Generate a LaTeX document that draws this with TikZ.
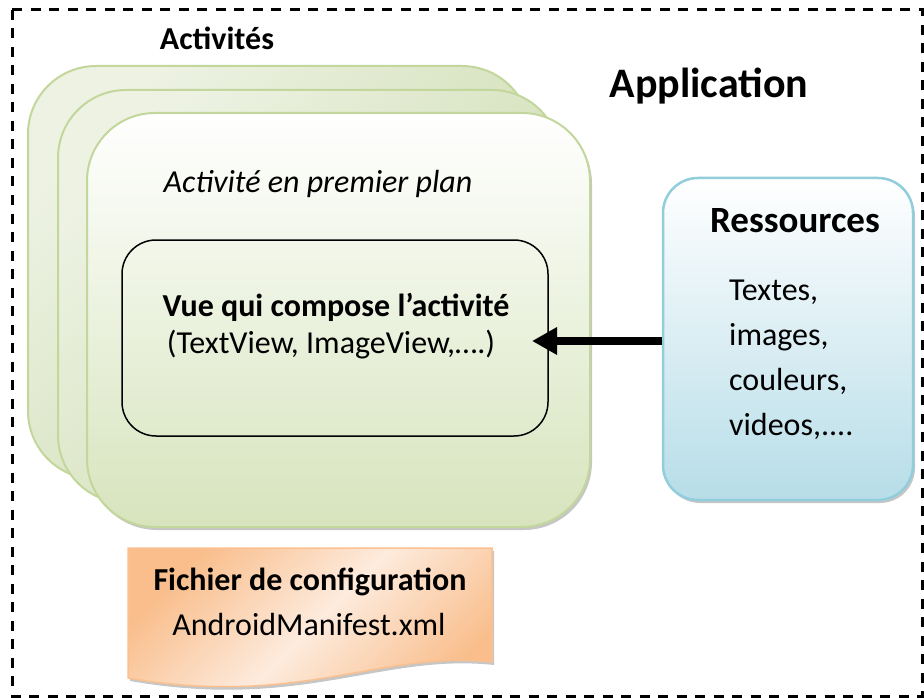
\documentclass[tikz,border=0pt]{standalone}
\usepackage{fontspec}
\setmainfont{Carlito}
\usetikzlibrary{arrows.meta,shadows}

\definecolor{vertbord}{HTML}{C3D69B}
\definecolor{vertclair}{HTML}{EDF2E3}
\definecolor{vertfonce}{HTML}{CADAAA}
\definecolor{vertbas}{HTML}{D7E4BD}
\definecolor{bleubord}{HTML}{92CDDC}
\definecolor{bleubas}{HTML}{B7DDE8}
\definecolor{orangebord}{HTML}{FAC090}
\definecolor{orangefonce}{HTML}{F9BE8C}
\definecolor{orangeclair}{HTML}{FDEBDD}

\tikzset{
  cadre/.style={draw=black, line width=3pt, dash pattern=on 10pt off 8.5pt},
  ombre/.style={drop shadow={shadow xshift=2pt, shadow yshift=-3pt, fill=black!50, opacity=.45}},
  actarriere/.style={draw=vertbord, line width=2pt, rounded corners=68pt, inner sep=0pt,
    minimum width=502pt, minimum height=413pt,
    top color=vertclair, bottom color=vertfonce, shading angle=45},
  actavant/.style={actarriere, ombre, minimum width=503pt, minimum height=414pt,
    top color=white, bottom color=vertbas},
  vuebox/.style={draw=black, line width=1.5pt, rounded corners=34pt, inner sep=0pt,
    minimum width=426pt, minimum height=196pt},
  resbox/.style={draw=bleubord, line width=2.5pt, rounded corners=35pt, inner sep=0pt, ombre,
    minimum width=250pt, minimum height=322pt, top color=white, bottom color=bleubas},
  docfill/.style={draw=orangebord, line width=1.5pt, ombre,
    top color=orangefonce, bottom color=orangefonce, middle color=orangeclair, shading angle=45},
  textenorm/.style={anchor=base, inner sep=0pt, font=\fontsize{32}{38}\selectfont},
  textegras/.style={textenorm, font=\fontsize{32}{38}\selectfont\bfseries},
  grossefleche/.style={line width=8.5pt, -{Triangle[length=25pt, width=26pt]}}
}

\begin{document}
\begin{tikzpicture}[x=1pt,y=-1pt]
\useasboundingbox (0,0) rectangle (924,698);
% cadre de l'application
\draw[cadre] (12,10) rectangle (922,696);
\node[textegras, font=\fontsize{42}{50}\selectfont\bfseries] (app) at (709,98) {Application};
\node[textegras] (acts) at (217,50) {Activités};
% les activites empilees
\node[actarriere] (act3) at (279,272.5) {};
\node[actarriere] (act2) at (309,296.5) {};
\node[actavant] (act1) at (338.5,320) {};
\node[textenorm, font=\fontsize{32}{38}\selectfont\itshape] (plan) at (318,193) {Activité en premier plan};
\node[vuebox] (vue) at (335,338) {};
\node[textegras] (vuetitre) at (336,316) {Vue qui compose l’activité};
\node[textenorm] (vuetexte) at (331,353) {(TextView, ImageView,….)};
% ressources
\node[resbox] (res) at (788,339) {};
\node[textegras, font=\fontsize{37}{44}\selectfont\bfseries] (restitre) at (795,233) {Ressources};
\foreach \t [count=\i] in {{Textes,},{images,},{couleurs,},{videos,.{}.{}.{}.}}
  \node[textenorm, anchor=base west] (res\i) at (729,255+45*\i) {\t};
% fleche ressources -> vue
\coordinate (tip) at (532,341);
\draw[grossefleche] (tip -| res.west) -- (tip);
% fichier de configuration
\shadedraw[docfill] (128,548) -- (492,548) -- (492,662)
  .. controls (380,650) and (300,708) .. (128,678) -- cycle;
\node[textegras] (fichier) at (310,590) {Fichier de configuration};
\node[textenorm] (manifest) at (309,635) {AndroidManifest.xml};
\end{tikzpicture}
\end{document}
